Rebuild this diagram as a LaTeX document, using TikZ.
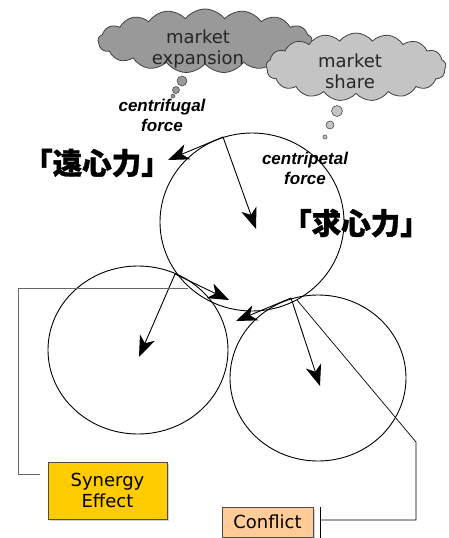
\documentclass[tikz,border=0pt]{standalone}
\usepackage{fontspec}
\setmainfont{DejaVu Sans}
\newfontfamily\forcefont{Liberation Sans}
\newfontfamily\cjkfont{Noto Sans CJK JP}[BoldFeatures={FakeBold=1.3}]
\usetikzlibrary{shapes.symbols,shapes.geometric,arrows.meta,shadows}
\definecolor{darkcloud}{HTML}{999999}
\definecolor{lightcloud}{HTML}{C4C4C4}
\definecolor{synfill}{HTML}{FFCC00}
\definecolor{conffill}{HTML}{FFCC99}
\tikzset{
  cloudnode/.style={cloud, cloud puffs=17, cloud puff arc=105, cloud ignores aspect, draw=black!75, line width=0.8pt, align=center, font=\fontsize{18}{21}\selectfont, text=black!85},
  bubble/.style={circle, draw=black!70, line width=0.6pt, inner sep=0pt},
  ring/.style={ellipse, draw, line width=0.9pt, inner sep=0pt},
  force/.style={-{Stealth[length=21pt,width=16pt,inset=6pt]}, line width=0.9pt},
  forcelabel/.style={font=\forcefont\bfseries\itshape\fontsize{17}{20}\selectfont, align=center},
  kanji/.style={font=\cjkfont\bfseries\fontsize{29.5}{31}\selectfont},
  effectbox/.style={draw=black!70, line width=0.8pt, align=center, font=\fontsize{18}{21.5}\selectfont, drop shadow={shadow xshift=1.5pt, shadow yshift=-1.5pt, fill=black!35}},
}
\begin{document}
\begin{tikzpicture}[x=1pt,y=-1pt]
\useasboundingbox (0,0) rectangle (449,538);
% clouds
\node[cloudnode, fill=darkcloud, minimum width=214pt, minimum height=64pt] (expansion) at (205,41) {};
\node[bubble, fill=darkcloud, minimum size=10pt] (eb1) at (182,81) {};
\node[bubble, fill=darkcloud, minimum size=7pt] (eb2) at (176,90) {};
\node[bubble, fill=darkcloud, minimum size=4pt] (eb3) at (173,96) {};
\node[cloudnode, fill=lightcloud, minimum width=180pt, minimum height=68pt] (share) at (356,67) {};
\node[bubble, fill=lightcloud, minimum size=11pt] (sb1) at (337,111) {};
\node[bubble, fill=lightcloud, minimum size=8pt] (sb2) at (330,125) {};
\node[bubble, fill=lightcloud, minimum size=4pt] (sb3) at (325,137) {};
\node[align=center, font=\fontsize{18}{21}\selectfont, text=black!85] (exptext) at (198,49) {market\\expansion};
\node[align=center, font=\fontsize{18}{21}\selectfont, text=black!85] (sharetext) at (350,71) {market\\share};
% circles
\node[ring, minimum width=184pt, minimum height=178pt] (top) at (252,222) {};
\node[ring, minimum width=180pt, minimum height=168pt] (left) at (138,350) {};
\node[ring, minimum width=176pt, minimum height=166pt] (right) at (318,378) {};
% labels
\node[forcelabel] (cf) at (162,115) {centrifugal\\force};
\node[forcelabel] (cp) at (305,168) {centripetal\\force};
\node[kanji] (enshin) at (97,163) {「遠心力」};
\node[kanji] (kyushin) at (356,223) {「求心力」};
% arrow points
\coordinate (t0) at (223,137);
\coordinate (t1) at (168,160);
\coordinate (t2) at (256,229);
\coordinate (l0) at (175,274);
\coordinate (l1) at (139,357);
\coordinate (l2) at (229,300);
\coordinate (r0) at (291,298);
\coordinate (r1) at (320,386);
\coordinate (r2) at (236,321);
\draw[force] (t0) -- (t1);
\draw[force] (t0) -- (t2);
\draw[force] (l0) -- (l1);
\draw[force] (l0) -- (l2);
\draw[force] (r0) -- (r1);
\draw[force] (r0) -- (r2);
% boxes
\node[effectbox, fill=synfill, minimum width=119pt, minimum height=57pt] (synergy) at (107.5,490.5) {Synergy\\Effect};
\node[effectbox, fill=conffill, minimum width=91pt, minimum height=30pt] (conflict) at (267.5,522) {Conflict};
% connectors
\coordinate (sstart) at (188,288);
\coordinate (send) at (40,474);
\draw[black!60, line width=0.9pt] (sstart) -| (18,474) -- (send);
\coordinate (cstart) at (297,300);
\coordinate (cend) at (320,520);
\draw[line width=0.7pt] (cstart) -- (416,442) |- (cend);
\draw[line width=0.9pt] (320,507) -- (320,538);
\end{tikzpicture}
\end{document}
